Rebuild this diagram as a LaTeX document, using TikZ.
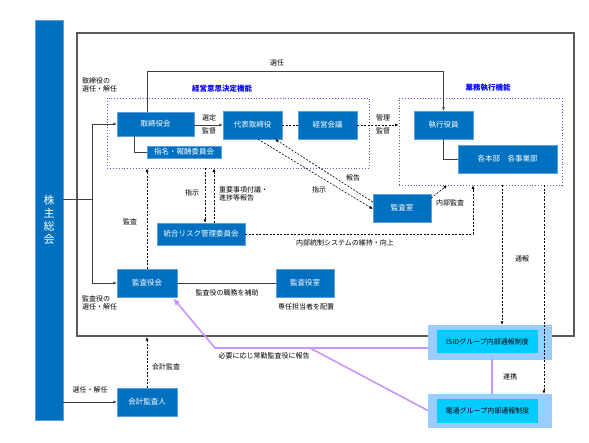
\documentclass[tikz,border=0pt]{standalone}
\usepackage{fontspec}
\setmainfont{Noto Sans CJK JP}
\usetikzlibrary{arrows.meta}

\definecolor{boxblue}{RGB}{0,112,192}
\definecolor{boxedge}{RGB}{90,160,225}
\definecolor{grpblue}{RGB}{90,90,200}
\definecolor{lila}{RGB}{200,150,255}
\definecolor{paleblue}{RGB}{153,204,255}
\definecolor{aqua}{RGB}{0,204,255}
\definecolor{titleblue}{RGB}{0,0,255}

\tikzset{
  unit/.style={draw=boxedge, fill=boxblue, text=white, inner sep=0pt,
    font=\fontsize{7.5}{9}\selectfont},
  grp/.style={draw=grpblue, dotted, line width=0.9pt, inner sep=0pt},
  lbl/.style={font=\fontsize{7}{8.5}\selectfont, inner sep=0pt, align=left},
  ttl/.style={font=\fontsize{7.5}{9}\selectfont\bfseries, text=titleblue, inner sep=0pt},
  dsh/.style={dash pattern=on 2pt off 1.5pt, line width=0.6pt},
  ln/.style={line width=0.7pt, draw=black!75},
  report/.style={draw=paleblue, fill=paleblue, inner sep=0pt},
  reportin/.style={fill=aqua, inner sep=0pt, font=\fontsize{7}{8}\selectfont},
  purp/.style={draw=lila, line width=1.6pt}
}

\begin{document}
\begin{tikzpicture}[x=1pt, y=-1pt, >={Latex[length=3.5pt,width=3pt]}]
\useasboundingbox (0,0) rectangle (589,442);

% frame and groups
\node[draw=gray!70!black, line width=2pt, minimum width=497pt, minimum height=303pt, inner sep=0pt] (frame) at (325.5,184.5) {};
\node[grp, minimum width=262pt, minimum height=70pt] (keieiG) at (238,133) {};
\node[grp, minimum width=163pt, minimum height=87pt] (gyomuG) at (480.5,141.5) {};
\node[ttl] (keieiT) at (222,89) {経営意思決定機能};
\node[ttl] (gyomuT) at (488,88) {業務執行機能};

% shareholders
\node[fill=boxblue, draw=boxedge, text=white, minimum width=28pt, minimum height=400pt, inner sep=0pt,
  align=center, font=\fontsize{11}{13}\selectfont] (kabu) at (49,220) {株\\主\\総\\会};

% boxes
\node[unit, minimum width=77pt, minimum height=24pt] (torishimari) at (155.5,124) {取締役会};
\node[unit, minimum width=74pt, minimum height=12pt] (shimei) at (184,152) {指名・報酬委員会};
\node[unit, minimum width=59pt, minimum height=28pt] (daihyo) at (252.5,125) {代表取締役};
\node[unit, minimum width=59pt, minimum height=28pt] (keieikaigi) at (327.5,125) {経営会議};
\node[unit, minimum width=59pt, minimum height=28pt] (shikko) at (443.5,125) {執行役員};
\node[unit, minimum width=99pt, minimum height=28pt] (honbu) at (507.5,159) {各本部　各事業部};
\node[unit, minimum width=58pt, minimum height=28pt] (kansashitsu) at (402,208) {監査室};
\node[unit, minimum width=88pt, minimum height=22pt] (risk) at (201,234) {統合リスク管理委員会};
\node[unit, minimum width=60pt, minimum height=28pt] (kansayakukai) at (147,283) {監査役会};
\node[unit, minimum width=58pt, minimum height=28pt] (kansayakushitsu) at (305,283) {監査役室};
\node[unit, minimum width=60pt, minimum height=28pt] (kaikei) at (147,402) {会計監査人};

\node[report, minimum width=123pt, minimum height=34pt] (isid) at (489.5,342) {};
\node[reportin, minimum width=101pt, minimum height=23pt] (isidin) at (487.5,341.5) {ISIDグループ内部通報制度};
\node[report, minimum width=123pt, minimum height=33pt] (dentsu) at (489.5,410.5) {};
\node[reportin, minimum width=101pt, minimum height=24pt] (dentsuin) at (487.5,411) {電通グループ内部通報制度};

% solid connectors
\coordinate (jn) at (92,199);
\draw[ln] (kabu.east |- jn) -- (jn);
\draw[ln,->] (jn) |- (torishimari.west);
\draw[ln,->] (jn) |- (kansayakukai.west);
\draw[ln,->] (kabu.east |- kaikei) -- (kaikei.west);
\draw[ln,->] ([xshift=-8.5pt]torishimari.north) -- ++(0,-40) -| (shikko.north);
\draw[ln] ([xshift=-21.5pt]torishimari.south) |- (shimei.west);
\draw[ln,->] (torishimari.east |- daihyo) -- (daihyo.west);
\draw[ln] (shikko.south) |- (honbu.west);
\draw[ln] (kansayakukai.east) -- (kansayakushitsu.west);

% dashed connectors
\draw[dsh] (daihyo.east) -- (keieikaigi.west);
\draw[dsh,->] (keieikaigi.east) -- (gyomuG.west |- keieikaigi);
\draw[dsh,->] ([xshift=5.5pt]daihyo.south) -- ([yshift=-1pt]kansashitsu.west);
\draw[dsh,->] ([yshift=6pt]kansashitsu.west) -- ([xshift=22.5pt]daihyo.south);
\draw[dsh,->] ([yshift=10pt]kansashitsu.east) -- ([xshift=-33.5pt]gyomuG.south);
\draw[dsh,->] ([xshift=4pt]risk.north |- keieiG.south) -- ([xshift=4pt]risk.north);
\draw[dsh,->] ([xshift=13pt]risk.north) -- ([xshift=13pt]risk.north |- keieiG.south);
\draw[dsh,->] (kansayakukai.north) -- (kansayakukai.north |- keieiG.south);
\draw[dsh,->] (risk.east) -| ([xshift=-7.5pt]gyomuG.south);
\draw[dsh,->] (kaikei.north) -- (kaikei.north |- frame.south);
\draw[dsh,->] ([xshift=12.5pt]isid.north |- gyomuG.south) -- ([xshift=12.5pt]isid.north);
\draw[dsh,->] ([xshift=54.5pt]dentsu.north |- gyomuG.south) -- ([xshift=54.5pt]dentsu.north);

% whistleblowing lines
\coordinate (pb) at (215,348);
\coordinate (pj) at (310,348);
\draw[purp] ([xshift=2.5pt]isid.south) -- ([xshift=2.5pt]dentsu.north);
\draw[purp,-{Latex[length=7pt,width=6pt]}] ([yshift=-6pt]isid.west) -- (pb) -- ([xshift=-4pt,yshift=-1pt]kansayakukai.south east);
\draw[purp] (dentsu.west) -- (pj);

% labels
\node[lbl] (l1) at (277,63) {選任};
\node[lbl, anchor=west] (l2) at (82,85) {取締役の\\選任・解任};
\node[lbl] (l3) at (209,118) {選定};
\node[lbl] (l4) at (209,131) {監督};
\node[lbl] (l5) at (383,118) {管理};
\node[lbl] (l6) at (383,131) {監督};
\node[lbl] (l7) at (353,178) {報告};
\node[lbl] (l8) at (319,190) {指示};
\node[lbl] (l9) at (192,193) {指示};
\node[lbl, anchor=west] (l10) at (219,194) {重要事項付議・\\進捗等報告};
\node[lbl] (l11) at (130,222) {監査};
\node[lbl] (l12) at (450,203) {内部監査};
\node[lbl] (l13) at (345,243) {内部統制システムの維持・向上};
\node[lbl] (l14) at (227,293) {監査役の職務を補助};
\node[lbl] (l15) at (306,307) {専任担当者を配置};
\node[lbl, anchor=west] (l16) at (82,303) {監査役の\\選任・解任};
\node[lbl] (l17) at (90,390) {選任・解任};
\node[lbl] (l18) at (166,367) {会計監査};
\node[lbl] (l19) at (264,356) {必要に応じ常勤監査役に報告};
\node[lbl] (l20) at (522,259) {通報};
\node[lbl] (l21) at (510,377) {連携};
\end{tikzpicture}
\end{document}
